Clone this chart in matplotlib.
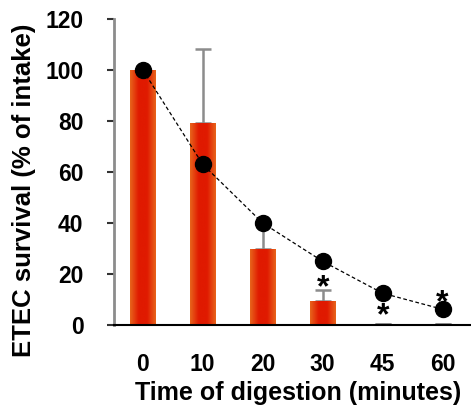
import numpy as np
import matplotlib
matplotlib.use("Agg")
import matplotlib.pyplot as plt
from matplotlib.colors import LinearSegmentedColormap

plt.rcParams['font.family'] = ['Liberation Sans', 'DejaVu Sans']
plt.rcParams['font.weight'] = 'bold'

times = ['0', '10', '20', '30', '45', '60']
bar_vals = [100, 79, 30, 9.5, 0.5, 0.3]
bar_err = [0, 29, 10, 4.2, 0, 0]
dot_vals = [100, 63, 40, 25, 12.5, 6.2]
stars = ['', '', '', '*', '*', '*']
star_y = [0, 0, 0, 11.4, 0.4, 5.5]

x = np.arange(len(times))

fig = plt.figure(figsize=(4.71, 4.09), dpi=100)
ax = fig.add_axes([0.242, 0.205, 0.764, 0.749])

bars = ax.bar(x, bar_vals, width=0.42, color='#e01c02', edgecolor='none', zorder=2)
# horizontal gradient: orange edges, red centre
cmap = LinearSegmentedColormap.from_list('grad', ['#e8641c', '#e01a00', '#e01a00', '#e8641c'])
grad = np.linspace(0, 1, 64).reshape(1, -1)
for b in bars:
    bx, by = b.get_x(), b.get_y()
    bw, bh = b.get_width(), b.get_height()
    im = ax.imshow(grad, cmap=cmap, extent=[bx, bx + bw, by, by + bh], aspect='auto',
                   zorder=2, interpolation='bicubic')
    im.set_clip_path(b)

ax.errorbar(x, bar_vals, yerr=[np.zeros(len(x)), bar_err], fmt='none', ecolor='#8c8c8c',
            elinewidth=1.8, capsize=6, capthick=1.8, zorder=1)
ax.plot(x, dot_vals, color='black', linestyle=(0, (3, 2)), linewidth=0.9, marker='o',
        markersize=11.5, markerfacecolor='black', zorder=4)

for i in range(len(x)):
    if stars[i]:
        ax.text(x[i], star_y[i], stars[i], ha='center', va='baseline', fontsize=23,
                fontweight='bold', zorder=3)

ax.set_xlim(-0.48, 5.52)
ax.set_ylim(0, 120)
ax.set_yticks([0, 20, 40, 60, 80, 100, 120])
ax.set_xticks(x)
ax.set_xticklabels(times, fontweight='bold')
ax.set_yticklabels(['0', '20', '40', '60', '80', '100', '120'], fontweight='bold')
ax.tick_params(axis='x', length=0, pad=20, labelsize=16.5)
ax.tick_params(axis='y', length=5, width=1.5, color='#333333', pad=17, labelsize=16.5)
ax.spines['top'].set_visible(False)
ax.spines['right'].set_visible(False)
ax.spines['left'].set_color('#8c8c8c')
ax.spines['left'].set_linewidth(2)
ax.spines['bottom'].set_color('black')
ax.spines['bottom'].set_linewidth(1.5)

ax.set_xlabel('Time of digestion (minutes)', fontsize=18, fontweight='bold')
ax.set_ylabel('ETEC survival (% of intake)', fontsize=18.5, fontweight='bold')
ax.xaxis.set_label_coords(0.5125, -0.183)
ax.yaxis.set_label_coords(-0.217, 0.441)

fig.savefig('out.png', dpi=100)
